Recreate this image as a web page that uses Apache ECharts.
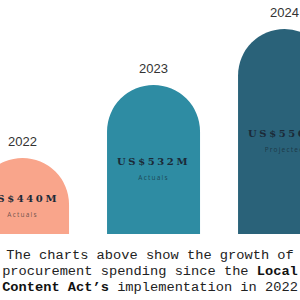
<!DOCTYPE html>
<html>
<head>
<meta charset="utf-8">
<script src="https://cdn.jsdelivr.net/npm/echarts@6/dist/echarts.min.js"></script>
<style>
  html, body { margin: 0; padding: 0; background: #ffffff; }
  #chart { width: 300px; height: 300px; }
  #chart text[style*="DejaVu Serif"] { letter-spacing: 2.6px; }
  #chart text[style*="Noto Sans"] { letter-spacing: 1.2px; }
</style>
</head>
<body>
<div id="chart"></div>
<script>
const years = ['2022', '2023', '2024'];
const amounts = ['US$440M', 'US$532M', 'US$550M'];
const statuses = ['Actuals', 'Actuals', 'Projected'];
// relative visual heights of the domed bars as drawn in the infographic
const barLevels = [76, 149, 205];
const barColors = ['#F9A58B', '#2E8CA3', '#2A6279'];
const captionLines = [
  '{r|The charts above show the growth of}',
  '{n|procurement spending since the }{b|Local}',
  '{b|Content Act\u2019s}{n| implementation in 2022}'
];

const chart = echarts.init(document.getElementById('chart'), null, { renderer: 'svg' });

const slots = years.map((y, i) => i);

const option = {
  backgroundColor: '#ffffff',
  animation: false,
  grid: { left: 0, right: 0, top: 0, bottom: 66, containLabel: false },
  xAxis: {
    type: 'value',
    min: -0.172,
    max: 2.118,
    show: false
  },
  yAxis: {
    type: 'value',
    min: 0,
    max: 234,
    show: false
  },
  series: [
    {
      type: 'bar',
      barWidth: 93,
      data: barLevels.map((v, i) => ({
        value: [slots[i], v],
        itemStyle: { color: barColors[i], borderRadius: [47, 47, 0, 0] },
        label: {
          show: true,
          position: 'inside',
          offset: [0, 10],
          formatter: '{v|' + amounts[i] + '}\n{s|' + statuses[i] + '}',
          rich: {
            v: {
              fontFamily: 'DejaVu Serif',
              fontWeight: 'bold',
              fontSize: 10,
              color: '#1B2A38',
              align: 'center',
              lineHeight: 16
            },
            s: {
              fontFamily: 'Noto Sans',
              fontSize: 6.5,
              color: 'rgba(20,30,40,0.62)',
              align: 'center',
              lineHeight: 16
            }
          }
        }
      }))
    },
    {
      type: 'bar',
      barWidth: 93,
      barGap: '-100%',
      silent: true,
      itemStyle: { color: 'rgba(0,0,0,0)' },
      data: barLevels.map((v, i) => [slots[i], v]),
      label: {
        show: true,
        position: 'top',
        distance: 10,
        formatter: (p) => years[p.dataIndex],
        fontFamily: 'Liberation Sans',
        fontSize: 13,
        color: '#333333'
      }
    }
  ],
  graphic: [
    {
      type: 'text',
      left: 'center',
      top: 247,
      style: {
        text: captionLines.join('\n'),
        fontFamily: 'Liberation Mono',
        fontSize: 13.7,
        lineHeight: 16,
        fill: '#222222',
        textAlign: 'center',
        rich: {
          r: { fontFamily: 'Liberation Mono', fontSize: 13.7, lineHeight: 16, fill: '#222222', align: 'center' },
          n: { fontFamily: 'Liberation Mono', fontSize: 13.7, lineHeight: 16, fill: '#222222' },
          b: { fontFamily: 'Liberation Mono', fontWeight: 'bold', fontSize: 13.7, lineHeight: 16, fill: '#111111' }
        }
      }
    }
  ]
};

chart.setOption(option);
</script>
</body>
</html>
